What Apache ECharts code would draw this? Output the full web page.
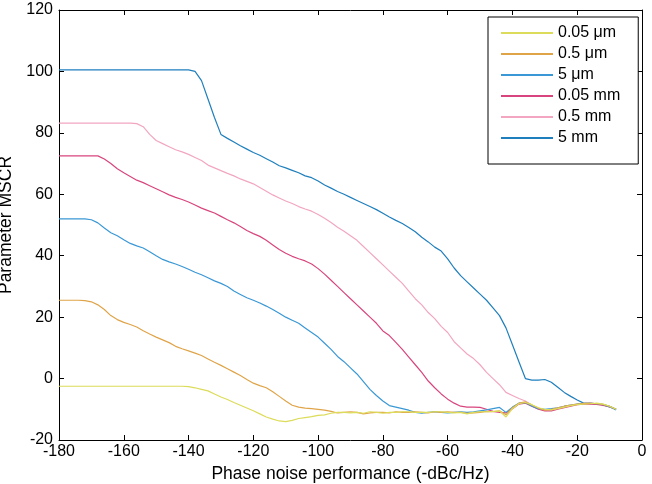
<!DOCTYPE html>
<html>
<head>
<meta charset="utf-8">
<script src="https://cdn.jsdelivr.net/npm/echarts@6/dist/echarts.min.js"></script>
<style>
  html, body { margin: 0; padding: 0; background: #fff; }
  #main { width: 652px; height: 484px; }
</style>
</head>
<body>
<div id="main"></div>
<script>
// phase noise (-dBc/Hz), step 2
var xs = [-180,-178,-176,-174,-172,-170,-168,-166,-164,-162,-160,-158,-156,-154,-152,-150,-148,-146,-144,-142,
  -140,-138,-136,-134,-132,-130,-128,-126,-124,-122,-120,-118,-116,-114,-112,-110,-108,-106,-104,-102,
  -100,-98,-96,-94,-92,-90,-88,-86,-84,-82,-80,-78,-76,-74,-72,-70,-68,-66,-64,-62,
  -60,-58,-56,-54,-52,-50,-48,-46,-44,-42,-40,-38,-36,-34,-32,-30,-28,-26,-24,-22,
  -20,-18,-16,-14,-12,-10,-8];

var names = ['0.05 \u03bcm', '0.5 \u03bcm', '5 \u03bcm', '0.05 mm', '0.5 mm', '5 mm'];
var colors = ['#dcdc5a', '#e0a448', '#3a98d6', '#d8457e', '#f2a6c2', '#1f7fbd'];

var y005um = [-2.5,-2.5,-2.5,-2.5,-2.5,-2.5,-2.5,-2.5,-2.5,-2.5,-2.5,-2.5,-2.5,-2.5,-2.5,-2.5,-2.5,-2.5,-2.5,-2.5,
  -2.6,-3,-3.5,-4,-5,-6,-6.8,-7.8,-8.7,-9.6,-10.5,-11.5,-12.5,-13.2,-13.8,-14,-13.6,-13,-12.7,-12.4,
  -12,-11.8,-11.3,-11,-11,-11.2,-11,-11.3,-10.8,-11,-11.3,-11,-11,-10.8,-10.8,-11,-11,-11,-10.8,-10.8,
  -11,-11.2,-11,-11.5,-11,-10.8,-10.8,-10.7,-10.5,-12.5,-9.8,-8.2,-7.8,-8.5,-9.5,-10,-10.2,-9.8,-9.3,-8.8,
  -8.5,-8.3,-8.2,-8,-8.3,-9,-10];

var y05um = [25.5,25.5,25.5,25.5,25.4,25,24,22.5,20.5,19.2,18.3,17.6,16.8,15.6,14.5,13.5,12.6,11.7,10.5,9.7,
  9,8.3,7.5,6.4,5.3,4.3,3.2,2.1,1,-0.3,-1.5,-2.3,-3,-4.3,-5.8,-7.3,-8.7,-9.3,-9.6,-9.8,
  -10,-10.3,-10.7,-11.2,-11,-10.8,-11,-11.5,-11.2,-11,-11,-11.2,-10.8,-11,-11,-10.8,-11,-11.2,-10.8,-11,
  -10.8,-11,-11,-11.3,-11.2,-11,-10.7,-10.8,-10.5,-11.8,-9.5,-8,-7.6,-8.6,-9.6,-10.3,-10,-9.5,-9,-8.6,
  -8.3,-8.1,-8,-8.2,-8.4,-9,-10];

var y5um = [52,52,52,52,52,51.7,50.7,49,47.5,46.5,45.2,44,43.2,42.5,41.3,40,38.8,38,37.3,36.5,
  35.6,34.6,33.8,32.8,31.8,31,30,28.5,27.4,26.3,25.5,24.6,23.6,22.5,21.3,20,19,18,16.5,15,
  13.5,11.5,9.5,7.2,5.5,3.5,1.5,-1,-3.5,-5.5,-7.3,-8.8,-9.3,-9.8,-10.3,-11,-11.3,-11,-10.8,-11,
  -11.2,-11,-10.8,-11,-10.8,-10.5,-10.2,-9.8,-9.4,-11,-9.3,-8,-7.8,-9,-9.8,-10,-9.8,-9.5,-9,-8.6,
  -8.3,-8.1,-8,-8.2,-8.5,-9.2,-10.2];

var y005mm = [72.5,72.5,72.5,72.5,72.5,72.5,72.5,71.5,70,68.3,67,65.8,64.6,63.8,62.8,61.8,60.8,59.8,59,58.3,
  57.5,56.5,55.5,54.7,53.9,52.8,51.7,50.7,49.5,48.2,47.2,46.3,45,43.5,42,40.8,39.8,39,38.3,37.3,
  35.8,34,32,30,28,26,24,22,20,18,15.5,14,11.8,9.5,7,4.5,2,-0.8,-3,-5,
  -6.7,-8,-9,-9.3,-9.3,-9.4,-10,-10.7,-11,-11.2,-9.8,-8.3,-8,-9,-10,-10.5,-10.5,-10,-9.5,-9,
  -8.5,-8.3,-8.3,-8.4,-8.7,-9.2,-10];

var y05mm = [83.2,83.2,83.2,83.2,83.2,83.2,83.2,83.2,83.2,83.2,83.2,83.2,83,82,79.5,77.5,76.5,75.5,74.5,73.8,
  73,72,71,69.5,68.6,67.7,66.8,66,65,64.2,63.4,62.2,61,59.8,58.8,57.8,57,56,55.2,54.5,
  53.4,52.2,50.8,49.3,48,46.5,45,43,41,39,37,35,33,31,28.5,26,24,21.5,19.5,17,
  15,12,10,8,6.5,4.5,2,0,-2,-4.5,-5.5,-6.5,-7.3,-8.7,-9.8,-10.3,-10.2,-9.8,-9.3,-8.8,
  -8.4,-8.1,-8,-8.2,-8.6,-9.2,-10];

var y5mm = [100.5,100.5,100.5,100.5,100.5,100.5,100.5,100.5,100.5,100.5,100.5,100.5,100.5,100.5,100.5,100.5,100.5,100.5,100.5,100.5,
  100.5,100,97,91,85,79.5,78.2,77,75.8,74.7,73.6,72.7,71.6,70.5,69.3,68.6,67.8,67,66,65.4,
  64.3,63,62,60.9,60,59,58,57,56,55,53.8,52.6,51.5,50.5,49.2,47.8,46,44.5,42.8,41.5,
  39,36,33.5,31.5,29.5,27.5,25.5,23,20.5,16.5,11,5.5,0,-0.5,-0.5,-0.3,-1.2,-2.8,-4.5,-5.8,
  -7,-8,-8.2,-8.2,-8.5,-9,-10];

var allY = [y005um, y05um, y5um, y005mm, y05mm, y5mm];

function pairs(ys) {
  var out = [];
  for (var i = 0; i < xs.length; i++) out.push([xs[i], ys[i]]);
  return out;
}

var seriesList = [];
for (var s = 0; s < names.length; s++) {
  seriesList.push({
    name: names[s],
    type: 'line',
    symbol: 'none',
    lineStyle: { width: 1.2, color: colors[s] },
    itemStyle: { color: colors[s] },
    data: pairs(allY[s]),
    z: 10 - s
  });
}

var font = 'Liberation Sans, Arial, sans-serif';
var tickStyle = { show: true, inside: true, length: 5, lineStyle: { color: '#000' } };
var lineAx = { show: true, onZero: false, lineStyle: { color: '#000', width: 1 } };

var option = {
  backgroundColor: '#FFFFFF',
  animation: false,
  color: colors,
  grid: { left: 59, right: 10, top: 10, bottom: 44, outerBoundsMode: 'none', containLabel: false },
  legend: {
    orient: 'vertical',
    left: 488,
    top: 17,
    data: names,
    itemWidth: 52,
    itemHeight: 14,
    itemGap: 5,
    padding: [8, 18, 18, 12],
    borderColor: '#000',
    borderWidth: 1,
    backgroundColor: '#fff',
    itemStyle: { opacity: 0 },
    textStyle: { color: '#000', fontSize: 16, fontFamily: font }
  },
  xAxis: [
    {
      type: 'value', min: -180, max: 0, interval: 20,
      name: 'Phase noise performance (-dBc/Hz)',
      nameLocation: 'middle', nameGap: 25,
      nameTextStyle: { color: '#000', fontSize: 17.5, fontFamily: font },
      axisLine: lineAx, axisTick: tickStyle,
      axisLabel: { color: '#000', fontSize: 16, fontFamily: font, margin: 4 },
      splitLine: { show: false }
    },
    {
      type: 'value', min: -180, max: 0, interval: 20, position: 'top',
      axisLine: lineAx, axisTick: tickStyle,
      axisLabel: { show: false }, splitLine: { show: false }
    }
  ],
  yAxis: [
    {
      type: 'value', min: -20, max: 120, interval: 20,
      name: 'Parameter MSCR',
      nameLocation: 'middle', nameGap: 42,
      nameTextStyle: { color: '#000', fontSize: 17.5, fontFamily: font },
      axisLine: lineAx, axisTick: tickStyle,
      axisLabel: { color: '#000', fontSize: 16, fontFamily: font, margin: 6 },
      splitLine: { show: false }
    },
    {
      type: 'value', min: -20, max: 120, interval: 20, position: 'right',
      axisLine: lineAx, axisTick: tickStyle,
      axisLabel: { show: false }, splitLine: { show: false }
    }
  ],
  series: seriesList
};

var myChart = echarts.init(document.getElementById('main'));
myChart.setOption(option);
window.addEventListener('resize', function () {
  myChart.resize();
});
</script>
</body>
</html>
